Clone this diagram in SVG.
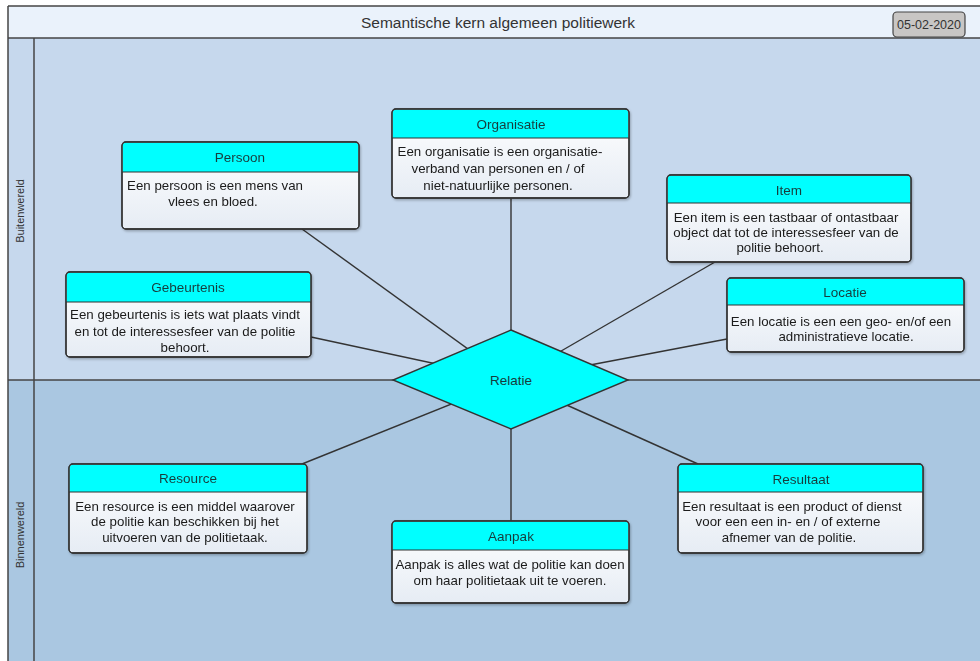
<svg xmlns="http://www.w3.org/2000/svg" width="980" height="661" viewBox="0 0 980 661">
<defs>
<linearGradient id="body" x1="0" y1="0" x2="0" y2="1">
<stop offset="0" stop-color="#ffffff"/>
<stop offset="1" stop-color="#e6ecf4"/>
</linearGradient>
<filter id="sh" x="-5%" y="-5%" width="112%" height="120%">
<feDropShadow dx="1" dy="1.5" stdDeviation="1.2" flood-color="#000" flood-opacity="0.25"/>
</filter>
</defs>
<style>
.hdr{fill:#00ffff;}
.box{fill:url(#body);stroke:#333;stroke-width:1.3;}
.frame{fill:none;stroke:#333;stroke-width:1.3;}
.ht{font-family:"Liberation Sans",Arial,sans-serif;font-size:13.5px;fill:#173c3c;text-anchor:middle;}
.bt{font-family:"Liberation Sans",Arial,sans-serif;font-size:13.3px;fill:#1a1a1a;text-anchor:middle;}
.lane{font-family:"Liberation Sans",Arial,sans-serif;font-size:11px;fill:#333;text-anchor:middle;}
.conn line{stroke:#333;stroke-width:1.4;}
</style>
<rect x="0" y="0" width="980" height="661" fill="#ffffff"/>
<rect x="8" y="6" width="972" height="32" fill="#eaf2fb"/>
<rect x="8" y="38" width="972" height="342" fill="#c6d8ed"/>
<rect x="8" y="380" width="972" height="281" fill="#aac7e1"/>
<g stroke="#444" stroke-width="1.5" fill="none">
<line x1="8" y1="6" x2="980" y2="6"/>
<line x1="8" y1="6" x2="8" y2="661"/>
<line x1="8" y1="38" x2="980" y2="38"/>
<line x1="8" y1="380" x2="980" y2="380"/>
<line x1="34" y1="38" x2="34" y2="661"/>
</g>
<text x="498" y="28" font-family="Liberation Sans,Arial,sans-serif" font-size="15.5" fill="#333" text-anchor="middle">Semantische kern algemeen politiewerk</text>
<g id="date">
<rect x="893" y="12" width="72" height="25" rx="4" fill="#c8c6c4" stroke="#444" stroke-width="1.2"/>
<text x="929" y="29" font-family="Liberation Sans,Arial,sans-serif" font-size="12.5" fill="#333" text-anchor="middle">05-02-2020</text>
</g>
<text class="lane" transform="translate(24,211) rotate(-90)">Buitenwereld</text>
<text class="lane" transform="translate(24,535) rotate(-90)">Binnenwereld</text>

<g id="connectors" class="conn">
<line x1="302" y1="229" x2="511" y2="380"/>
<line x1="311" y1="337" x2="511" y2="380"/>
<line x1="511" y1="198" x2="511" y2="380"/>
<line x1="715" y1="262" x2="511" y2="380"/>
<line x1="727" y1="339" x2="511" y2="380"/>
<line x1="302" y1="464" x2="511" y2="380"/>
<line x1="511" y1="521" x2="511" y2="380"/>
<line x1="698" y1="464" x2="511" y2="380"/>
</g>

<g id="relatie">
<polygon points="511,330 628,380 511,429 393,380" fill="#00ffff" stroke="#333" stroke-width="1.4"/>
<text class="ht" x="511" y="385">Relatie</text>
</g>

<g id="persoon" filter="url(#sh)">
<rect class="box" x="122" y="142" width="237" height="87" rx="4"/>
<path class="hdr" d="M126,142.7 H355 A3.3,3.3 0 0 1 358.3,146 V172 H122.7 V146 A3.3,3.3 0 0 1 126,142.7 Z"/>
<line x1="122" y1="172" x2="359" y2="172" stroke="#333" stroke-width="1.2"/>
<rect class="frame" x="122" y="142" width="237" height="87" rx="4"/>
<text class="ht" x="240" y="162">Persoon</text>
<text class="bt" x="215" y="190">Een persoon is een mens van</text>
<text class="bt" x="213" y="206">vlees en bloed.</text>
</g>

<g id="organisatie" filter="url(#sh)">
<rect class="box" x="392" y="109" width="237" height="89" rx="4"/>
<path class="hdr" d="M396,109.7 H625 A3.3,3.3 0 0 1 628.3,113 V138 H392.7 V113 A3.3,3.3 0 0 1 396,109.7 Z"/>
<line x1="392" y1="138" x2="629" y2="138" stroke="#333" stroke-width="1.2"/>
<rect class="frame" x="392" y="109" width="237" height="89" rx="4"/>
<text class="ht" x="511" y="129">Organisatie</text>
<text class="bt" x="500" y="156">Een organisatie is een organisatie-</text>
<text class="bt" x="498" y="173">verband van personen en / of</text>
<text class="bt" x="498" y="190">niet-natuurlijke personen.</text>
</g>

<g id="item" filter="url(#sh)">
<rect class="box" x="667" y="175" width="244" height="87" rx="4"/>
<path class="hdr" d="M671,175.7 H907 A3.3,3.3 0 0 1 910.3,179 V203 H667.7 V179 A3.3,3.3 0 0 1 671,175.7 Z"/>
<line x1="667" y1="203" x2="911" y2="203" stroke="#333" stroke-width="1.2"/>
<rect class="frame" x="667" y="175" width="244" height="87" rx="4"/>
<text class="ht" x="789" y="195">Item</text>
<text class="bt" x="786" y="222">Een item is een tastbaar of ontastbaar</text>
<text class="bt" x="786" y="237">object dat tot de interessesfeer van de</text>
<text class="bt" x="780" y="252">politie behoort.</text>
</g>

<g id="locatie" filter="url(#sh)">
<rect class="box" x="727" y="278" width="237" height="74" rx="4"/>
<path class="hdr" d="M731,278.7 H960 A3.3,3.3 0 0 1 963.3,282 V305 H727.7 V282 A3.3,3.3 0 0 1 731,278.7 Z"/>
<line x1="727" y1="305" x2="964" y2="305" stroke="#333" stroke-width="1.2"/>
<rect class="frame" x="727" y="278" width="237" height="74" rx="4"/>
<text class="ht" x="845" y="297">Locatie</text>
<text class="bt" x="841" y="326">Een locatie is een een geo- en/of een</text>
<text class="bt" x="846" y="341">administratieve locatie.</text>
</g>

<g id="gebeurtenis" filter="url(#sh)">
<rect class="box" x="66" y="272" width="245" height="85" rx="4"/>
<path class="hdr" d="M70,272.7 H307 A3.3,3.3 0 0 1 310.3,276 V302 H66.7 V276 A3.3,3.3 0 0 1 70,272.7 Z"/>
<line x1="66" y1="302" x2="311" y2="302" stroke="#333" stroke-width="1.2"/>
<rect class="frame" x="66" y="272" width="245" height="85" rx="4"/>
<text class="ht" x="188" y="292">Gebeurtenis</text>
<text class="bt" x="185" y="319">Een gebeurtenis is iets wat plaats vindt</text>
<text class="bt" x="185" y="336">en tot de interessesfeer van de politie</text>
<text class="bt" x="185" y="352">behoort.</text>
</g>

<g id="resource" filter="url(#sh)">
<rect class="box" x="69" y="464" width="238" height="89" rx="4"/>
<path class="hdr" d="M73,464.7 H303 A3.3,3.3 0 0 1 306.3,468 V492 H69.7 V468 A3.3,3.3 0 0 1 73,464.7 Z"/>
<line x1="69" y1="492" x2="307" y2="492" stroke="#333" stroke-width="1.2"/>
<rect class="frame" x="69" y="464" width="238" height="89" rx="4"/>
<text class="ht" x="188" y="483">Resource</text>
<text class="bt" x="185" y="511">Een resource is een middel waarover</text>
<text class="bt" x="185" y="526">de politie kan beschikken bij het</text>
<text class="bt" x="185" y="542">uitvoeren van de politietaak.</text>
</g>

<g id="aanpak" filter="url(#sh)">
<rect class="box" x="392" y="521" width="237" height="82" rx="4"/>
<path class="hdr" d="M396,521.7 H625 A3.3,3.3 0 0 1 628.3,525 V550 H392.7 V525 A3.3,3.3 0 0 1 396,521.7 Z"/>
<line x1="392" y1="550" x2="629" y2="550" stroke="#333" stroke-width="1.2"/>
<rect class="frame" x="392" y="521" width="237" height="82" rx="4"/>
<text class="ht" x="511" y="541">Aanpak</text>
<text class="bt" x="510" y="569">Aanpak is alles wat de politie kan doen</text>
<text class="bt" x="510" y="585">om haar politietaak uit te voeren.</text>
</g>

<g id="resultaat" filter="url(#sh)">
<rect class="box" x="678" y="464" width="245" height="89" rx="4"/>
<path class="hdr" d="M682,464.7 H919 A3.3,3.3 0 0 1 922.3,468 V492 H678.7 V468 A3.3,3.3 0 0 1 682,464.7 Z"/>
<line x1="678" y1="492" x2="923" y2="492" stroke="#333" stroke-width="1.2"/>
<rect class="frame" x="678" y="464" width="245" height="89" rx="4"/>
<text class="ht" x="801" y="484">Resultaat</text>
<text class="bt" x="792" y="511">Een resultaat is een product of dienst</text>
<text class="bt" x="788" y="526">voor een een in- en / of externe</text>
<text class="bt" x="789" y="542">afnemer van de politie.</text>
</g>
</svg>
